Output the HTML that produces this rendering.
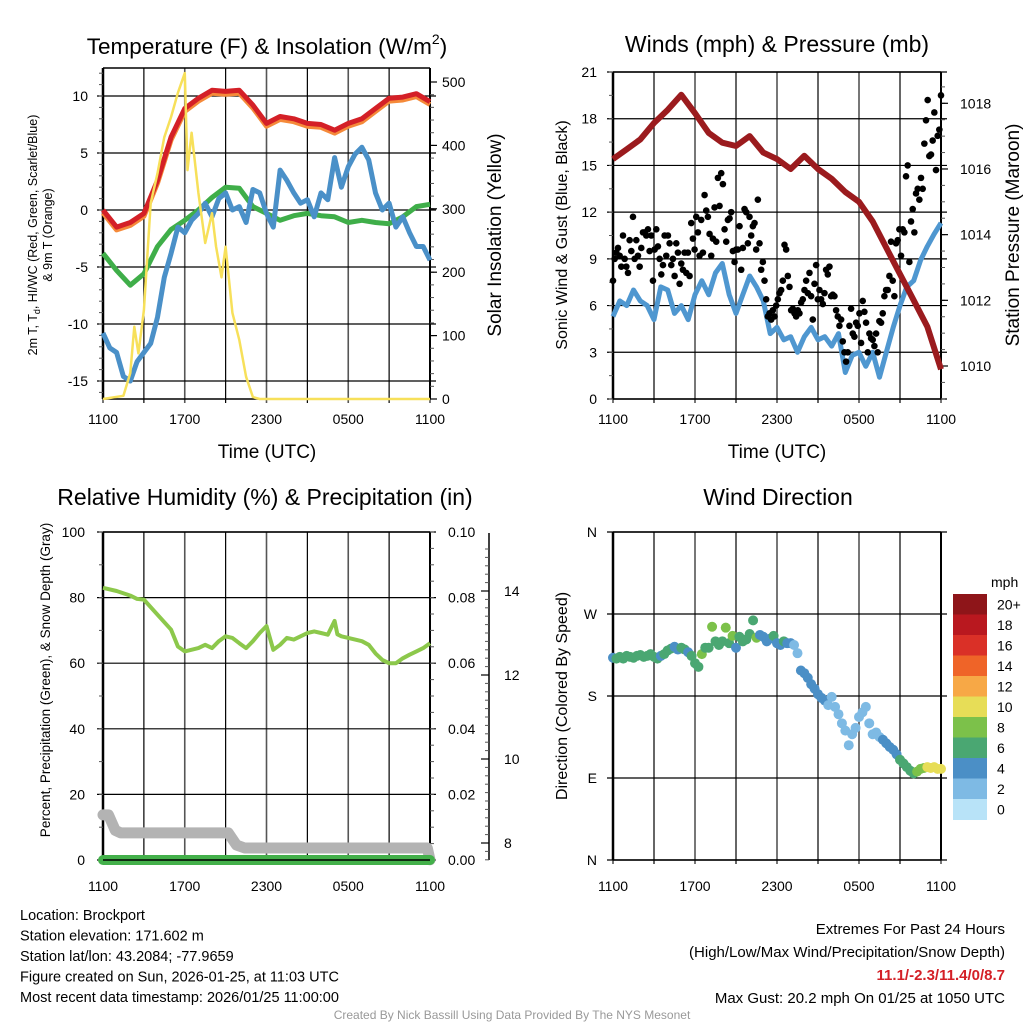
<!DOCTYPE html>
<html><head><meta charset="utf-8"><style>
html,body{margin:0;padding:0;background:#fff}
svg{display:block;font-family:"Liberation Sans",sans-serif}
</style></head><body>
<svg id="c" width="1024" height="1024" viewBox="0 0 1024 1024" xmlns="http://www.w3.org/2000/svg"></svg>
<script>
// ---------- DATA ----------
const xTickLabels = ["1100","1700","2300","0500","1100"];
const tempTicks = [-15,-10,-5,0,5,10];
const solarTicks = [0,100,200,300,400,500];
const hourly = [0,1,2,3,4,5,6,7,8,9,10,11,12,13,14,15,16,17,18,19,20,21,22,23,24];
const airTemp = [0,-1.5,-1.1,-0.3,2.6,6.4,8.9,9.8,10.5,10.4,10.5,9.2,7.6,8.2,8.0,7.6,7.5,7.0,7.6,8.0,8.9,9.8,9.9,10.2,9.5];
const windChill = [-3.8,-5.3,-6.6,-5.6,-3.2,-1.7,-0.9,0,1.1,2.0,1.9,0.3,-0.3,-0.9,-0.5,-0.3,-0.5,-0.6,-1.1,-0.9,-1.1,-1.2,-0.6,0.3,0.5];
const halfHourly = [0,0.5,1,1.5,2,2.5,3,3.5,4,4.5,5,5.5,6,6.5,7,7.5,8,8.5,9,9.5,10,10.5,11,11.5,12,12.5,13,13.5,14,14.5,15,15.5,16,16.5,17,17.5,18,18.5,19,19.5,20,20.5,21,21.5,22,22.5,23,23.5,24];
const dewPoint = [-10.8,-12.1,-12.5,-14.6,-15,-13.3,-12.5,-11.7,-9.4,-5.9,-3.8,-1.5,-2.0,-0.9,-0.3,0.6,-0.6,1.0,1.5,0,0.3,-1.1,1.8,1.5,-0.3,-1.5,3.5,2.6,1.5,0.6,0.9,-0.6,1.5,0.9,4.6,2.0,3.8,4.9,5.5,4.4,1.5,0,0.6,-1.5,-0.6,-2.0,-3.2,-3.2,-4.4];
const solarTimes = [0,1.5,2,2.3,2.6,3,3.5,4,4.5,5,5.5,6,6.2,6.5,7,7.5,8,8.3,8.7,9,9.5,10,10.5,11,11.5,24];
const solarValues = [0,5,41,114,72,140,309,356,413,445,483,514,361,420,325,246,293,240,192,240,136,93,35,3,0,0];

const windTicks = [0,3,6,9,12,15,18,21];
const presTicks = [1010,1012,1014,1016,1018];
const pressure = [1016.3,1016.6,1016.9,1017.4,1017.8,1018.26,1017.7,1017.1,1016.8,1016.7,1017.0,1016.5,1016.3,1016.0,1016.4,1016.0,1015.7,1015.3,1015.0,1014.4,1013.6,1012.8,1012.0,1011.2,1009.9];
const sonicWind = [5.3,6.3,6.0,7.0,6.3,6.0,5.1,7.2,7.0,5.5,6.0,5.1,6.7,7.6,6.7,8.1,8.7,6.7,5.5,6.7,7.9,7.2,6.3,4.2,4.6,3.8,4.0,3.0,4.0,4.6,3.8,4.0,3.4,4.2,1.7,2.8,3.0,2.1,3.0,1.4,3.0,4.6,6.0,7.2,7.6,8.9,9.8,10.6,11.3];
const gusts = [7.6,9.0,9.4,9.7,9.2,8.5,10.5,9.0,8.5,8.1,10.2,9.5,11.7,9.0,10.2,9.2,8.5,9.7,10.7,10.7,10.5,10.9,9.5,10.5,7.6,9.6,10.9,9.8,9.0,8.0,8.6,10.5,9.2,10.5,10.0,8.6,9.0,7.9,10.0,9.4,7.4,8.7,8.3,9.4,8.1,9.4,7.9,11.3,10.3,9.6,11.7,10.7,9.2,11.5,9.4,13.1,12.1,11.7,10.6,9.2,10.3,12.3,10.1,14.2,12.4,14.5,13.8,10.9,10.1,11.5,11.6,12.0,9.5,8.8,9.6,9.6,11.1,8.3,9.7,12.2,12.0,10.0,11.7,10.5,11.1,11.3,9.6,12.8,10.0,8.3,8.8,7.6,6.4,5.3,5.5,5.1,5.7,5.3,6.0,6.4,6.8,7.0,7.6,9.9,9.6,7.9,7.2,5.7,5.8,5.5,5.3,5.7,5.5,6.2,6.4,7.0,7.6,6.8,8.1,6.6,5.1,7.4,8.6,6.4,7.0,6.4,6.1,6.8,8.3,8.0,8.5,6.6,6.7,6.6,5.7,5.3,4.7,5.1,3.7,3.0,2.4,3.0,4.7,5.8,4.2,4.0,4.9,4.7,5.5,3.6,6.3,5.6,4.9,3.0,4.2,3.9,3.8,3.4,4.2,3.0,5.0,4.9,5.5,6.6,7.0,7.0,7.9,10.1,7.6,6.6,10.0,10.2,10.9,9.2,10.9,10.7,14.3,15.0,8.8,11.4,12.2,10.7,13.2,13.5,12.8,14.2,13.5,16.4,17.9,19.2,15.6,15.7,16.6,18.4,14.7,16.9,17.3,19.5];

const rhTicks = [0,20,40,60,80,100];
const precipTicks = ["0.00","0.02","0.04","0.06","0.08","0.10"];
const snowTicks = [8,10,12,14];
const rhTimes = [0,1,2,2.5,3,4,5,5.5,6,7,7.5,8,8.5,9,9.5,10,10.5,11,11.5,12,12.5,13,13.5,14,14.5,15,15.5,16,16.5,17,17.2,17.5,18,18.5,19,19.5,20,20.5,21,21.5,22,22.5,23,23.5,24];
const rhValues = [83,82,80.6,79.6,79.4,74.8,70.2,65.1,63.6,64.6,65.6,64.6,66.7,68.2,67.7,66.1,64.6,66.7,69.2,71.3,64.1,65.6,67.7,67.2,68.2,69.2,69.7,69.2,68.7,72.9,68.8,68.2,67.7,67.2,66.7,65.6,63,61,60,60,61.5,62.6,63.6,64.6,66.1];
const snowTimes = [0,0.4,0.9,1.3,9.2,9.8,10.4,23.8,24];
const snowDepth = [8.67,8.67,8.3,8.24,8.24,7.95,7.88,7.88,7.6];
const precip = [0,0];
const precipTimes = [0,24];

const dirLabels = ["N","E","S","W","N"];
const windDir = [222,221,223,221,224,223,222,224,225,223,224,226,223,221,224,226,230,232,234,231,233,231,228,224,216,212,226,233,233,256,240,236,240,255,238,246,233,245,240,242,248,263,244,247,245,240,243,246,238,236,240,238,238,236,227,208,205,200,193,188,182,178,175,170,179,168,160,150,142,126,138,145,157,162,168,150,138,140,135,132,128,124,121,116,110,106,102,98,95,97,100,101,102,101,102,100,100];
const dirSpeed = [5.5,6.5,6.8,6.5,7,6.5,6.8,7,6.5,7,6.6,6.2,6.8,7.5,5.5,6.5,7,6.5,5.5,5,6.5,6.2,5.8,6.8,7,6.5,8.5,6.6,7,8.5,6.8,7.5,6.5,8.6,7,9,5.5,7,6.5,7.2,6.8,7,8.5,5.5,5.5,4.5,5,6.5,5.2,4.8,6.5,5,4.5,3.8,3.5,4.5,5,4.2,4.5,5.2,5,4.8,4,3.5,3.5,3.2,3,3.8,3.5,2.8,3.2,3,3.5,2.5,3.2,3.5,3.8,3.5,3.2,4.5,5,4.8,4.5,5.5,6.2,6.5,7,6.5,7.5,8.5,8.8,9.5,10.5,10,11,10.5,10.2];
const speedBins = ["20+","18","16","14","12","10","8","6","4","2","0"];
const binColors = ["#8e1519","#b9181f","#da3027","#ef6428","#f7a846","#e7dd57","#7cc14a","#4aa772","#4b8fc6","#7ebae4","#b8e3f8"];

// ---------- HELPERS ----------
const svg = document.getElementById('c');
const NS = "http://www.w3.org/2000/svg";
function el(tag, attrs, parent){const e=document.createElementNS(NS,tag);for(const k in attrs)e.setAttribute(k,attrs[k]);(parent||svg).appendChild(e);return e;}
function txt(s, attrs, parent){const e=el('text',attrs,parent);e.textContent=s;return e;}
function lin(d0,d1,r0,r1){return v=>r0+(v-d0)*(r1-r0)/(d1-d0);}
function pathD(xs,ys,fx,fy){return xs.map((x,i)=>(i?'L':'M')+fx(x).toFixed(1)+','+fy(ys[i]).toFixed(1)).join('');}
function frame(g,x0,x1,y0,y1,hGridYs){
  for(let i=0;i<=8;i++){const x=x0+(x1-x0)*i/8;
    const l=el('line',{x1:x,x2:x,y1:y0,y2:y1+4,stroke:i%2?'#000':'#555','stroke-width':i%2?1.2:1.6},g);
    }
  hGridYs.forEach(y=>{const l=el('line',{x1:x0-6,x2:x1+6,y1:y,y2:y,stroke:'#000','stroke-width':1.2},g);
    });
  el('line',{x1:x0,x2:x0,y1:y0,y2:y1,stroke:'#000','stroke-width':2.5},g);
  el('line',{x1:x1,x2:x1,y1:y0,y2:y1,stroke:'#000','stroke-width':2},g);
  el('line',{x1:x0,x2:x1,y1:y0,y2:y0,stroke:'#000','stroke-width':1.5},g);
  el('line',{x1:x0,x2:x1,y1:y1,y2:y1,stroke:'#000','stroke-width':1.5},g);
}
function xLabels(g,x0,x1,y){xTickLabels.forEach((t,i)=>{const e=txt(t,{x:x0+(x1-x0)*i/4,y:y,'font-size':14,'text-anchor':'middle'},g);
  });}
function minorTicks(g,x,ya,yb,n,dir){for(let i=0;i<=n;i++){const y=ya+(yb-ya)*i/n;el('line',{x1:x,x2:x+dir*4,y1:y,y2:y,stroke:'#555','stroke-width':1},g);}}

// ---------- PANEL 1 ----------
(function(){
const g=el('g',{});
const X0=103,X1=430,Y0=68,Y1=399;
const fx=lin(0,24,X0,X1), fy=lin(0,10,210,96), fs=lin(0,500,399,82);
frame(g,X0,X1,Y0,Y1,tempTicks.map(fy));
minorTicks(g,X0,fy(-16),fy(12),28,-1);
minorTicks(g,X1,fs(0),fs(500),25,1);
tempTicks.forEach(t=>{const e=txt(String(t),{x:88,y:fy(t)+5,'font-size':14,'text-anchor':'end'},g);});
solarTicks.forEach(t=>{el('line',{x1:X1,x2:X1+7,y1:fs(t),y2:fs(t),stroke:'#000','stroke-width':1.2},g);
  const e=txt(String(t),{x:442,y:fs(t)+5,'font-size':14},g);});
xLabels(g,X0,X1,424);
let p;
p=el('path',{d:pathD(hourly,airTemp.map(v=>v-0.25),fx,fy),fill:'none',stroke:'#f58a3a','stroke-width':5,'stroke-linejoin':'round'},g);
p=el('path',{d:pathD(hourly,windChill,fx,fy),fill:'none',stroke:'#3fae49','stroke-width':5,'stroke-linejoin':'round'},g);
p=el('path',{d:pathD(halfHourly,dewPoint,fx,fy),fill:'none',stroke:'#4a90c8','stroke-width':5,'stroke-linejoin':'round'},g);
p=el('path',{d:pathD(hourly,airTemp,fx,fy),fill:'none',stroke:'#d42027','stroke-width':5,'stroke-linejoin':'round'},g);
p=el('path',{d:pathD(solarTimes,solarValues,fx,fs),fill:'none',stroke:'#f7e05a','stroke-width':2.5,'stroke-linejoin':'round'},g);
let t=el('text',{x:267,y:54,'font-size':22.5,'text-anchor':'middle'},g);t.innerHTML='Temperature (F) &amp; Insolation (W/m<tspan font-size="14" dy="-10">2</tspan><tspan dy="10">)</tspan>';
t=txt('Time (UTC)',{x:267,y:458,'font-size':19,'text-anchor':'middle'},g);
t=el('text',{transform:'translate(37,235) rotate(-90)','font-size':12.5,'text-anchor':'middle'},g);t.innerHTML='2m T, T<tspan font-size="9" dy="3">d</tspan><tspan dy="-3">, HI/WC (Red, Green, Scarlet/Blue)</tspan>';
t=txt('& 9m T (Orange)',{transform:'translate(52,235) rotate(-90)','font-size':12.5,'text-anchor':'middle'},g);
t=txt('Solar Insolation (Yellow)',{transform:'translate(501,235) rotate(-90)','font-size':19,'text-anchor':'middle'},g);
})();

// ---------- PANEL 2 ----------
(function(){
const g=el('g',{});
const X0=613,X1=941,Y0=72,Y1=399;
const fx=lin(0,24,X0,X1), fy=lin(0,21,399,72), fp=lin(1010,1018,366,103.3);
frame(g,X0,X1,Y0,Y1,windTicks.map(fy));
minorTicks(g,X0,fy(0),fy(21),14,-1);
minorTicks(g,X1,fp(1009),fp(1018.5),19,1);
windTicks.forEach(t=>{const e=txt(String(t),{x:597,y:fy(t)+5,'font-size':14,'text-anchor':'end'},g);});
presTicks.forEach(t=>{el('line',{x1:X1,x2:X1+7,y1:fp(t),y2:fp(t),stroke:'#000','stroke-width':1.2},g);
  const e=txt(String(t),{x:960,y:fp(t)+5,'font-size':14},g);});
xLabels(g,X0,X1,424);
let p=el('path',{d:pathD(halfHourly,sonicWind,fx,fy),fill:'none',stroke:'#4f97d0','stroke-width':5,'stroke-linejoin':'round'},g);
p=el('path',{d:pathD(hourly,pressure,fx,fp),fill:'none',stroke:'#9b1b1e','stroke-width':6,'stroke-linejoin':'round'},g);
gusts.forEach((v,i)=>{const h=i*24/(gusts.length-1);
  const c=el('circle',{cx:fx(h),cy:fy(v),r:3.3,fill:'#000'},g);
  
  });
let t=txt('Winds (mph) & Pressure (mb)',{x:777,y:52,'font-size':23,'text-anchor':'middle'},g);
t=txt('Time (UTC)',{x:777,y:458,'font-size':19,'text-anchor':'middle'},g);
t=txt('Sonic Wind & Gust (Blue, Black)',{transform:'translate(567,235) rotate(-90)','font-size':16,'text-anchor':'middle'},g);
t=txt('Station Pressure (Maroon)',{transform:'translate(1019,235) rotate(-90)','font-size':19,'text-anchor':'middle'},g);
})();

// ---------- PANEL 3 ----------
(function(){
const g=el('g',{});
const X0=103,X1=430,Y0=532,Y1=860;
const fx=lin(0,24,X0,X1), fy=lin(0,100,860,532), fs=lin(8,14,843,591);
frame(g,X0,X1,Y0,Y1,rhTicks.map(fy));
minorTicks(g,X0,fy(0),fy(100),10,-1);
minorTicks(g,X1,fy(0),fy(100),20,1);
rhTicks.forEach(t=>{const e=txt(String(t),{x:85,y:fy(t)+5,'font-size':14,'text-anchor':'end'},g);});
precipTicks.forEach((t,i)=>{const e=txt(t,{x:448,y:fy(i*20)+5,'font-size':14},g);});
el('line',{x1:489,x2:489,y1:533,y2:860,stroke:'#000','stroke-width':1.5},g);
minorTicks(g,489,fs(7.6),fs(15),37,-1);
snowTicks.forEach(t=>{el('line',{x1:489,x2:481,y1:fs(t),y2:fs(t),stroke:'#000','stroke-width':1.2},g);
  const e=txt(String(t),{x:504,y:fs(t)+5,'font-size':14},g);});
xLabels(g,X0,X1,891);
let p=el('path',{d:pathD(snowTimes,snowDepth,fx,fs),fill:'none',stroke:'#b3b3b3','stroke-width':11,'stroke-linejoin':'round','stroke-linecap':'round'},g);
p=el('path',{d:pathD(precipTimes,precip,fx,v=>fy(v*1000)),fill:'none',stroke:'#43b04a','stroke-width':10,'stroke-linecap':'round'},g);
el('line',{x1:X0,x2:X1,y1:Y1,y2:Y1,stroke:'#000','stroke-width':1.5},g);
p=el('path',{d:pathD(rhTimes,rhValues,fx,fy),fill:'none',stroke:'#8cc84b','stroke-width':4,'stroke-linejoin':'round'},g);
let t=txt('Relative Humidity (%) & Precipitation (in)',{x:265,y:505,'font-size':23,'text-anchor':'middle'},g);
t=txt('Percent, Precipitation (Green), & Snow Depth (Gray)',{transform:'translate(50,680) rotate(-90)','font-size':13.5,'text-anchor':'middle'},g);
})();

// ---------- PANEL 4 ----------
(function(){
const g=el('g',{});
const X0=613,X1=941,Y0=532,Y1=860;
const fx=lin(0,24,X0,X1), fy=lin(0,360,860,532);
frame(g,X0,X1,Y0,Y1,[0,90,180,270,360].map(fy));
dirLabels.forEach((t,i)=>{const e=txt(t,{x:597,y:fy(i*90)+5,'font-size':14,'text-anchor':'end'},g);});
xLabels(g,X0,X1,891);
function binColor(s){const idx=Math.min(10,Math.floor(s/2));return binColors[10-idx];}
windDir.forEach((d,i)=>{const h=i*24/(windDir.length-1);
  const c=el('circle',{cx:fx(h),cy:fy(d),r:5,fill:binColor(dirSpeed[i])},g);
  
  });
const bh=20.5;
speedBins.forEach((lab,i)=>{const r=el('rect',{x:953,y:594+i*bh,width:34,height:bh+0.5,fill:binColors[i]},g);
  
  const e=txt(lab,{x:997,y:594+i*bh+bh/2+5,'font-size':14},g);});
let t=txt('mph',{x:991,y:587,'font-size':14},g);
t=txt('Wind Direction',{x:778,y:505,'font-size':23,'text-anchor':'middle'},g);
t=txt('Direction (Colored By Speed)',{transform:'translate(567,696) rotate(-90)','font-size':16,'text-anchor':'middle'},g);
})();

// ---------- FOOTER ----------
(function(){
const g=el('g',{});
const lines=["Location: Brockport","Station elevation: 171.602 m","Station lat/lon: 43.2084; -77.9659","Figure created on Sun, 2026-01-25, at 11:03 UTC","Most recent data timestamp: 2026/01/25 11:00:00"];
lines.forEach((s,i)=>{const e=txt(s,{x:20,y:920+i*20.5,'font-size':14.5},g);});
const g2=el('g',{});
let e=txt('Extremes For Past 24 Hours',{x:1005,y:934,'font-size':15,'text-anchor':'end'},g2);
e=txt('(High/Low/Max Wind/Precipitation/Snow Depth)',{x:1005,y:957,'font-size':15,'text-anchor':'end'},g2);
e=txt('11.1/-2.3/11.4/0/8.7',{x:1005,y:980,'font-size':15,'font-weight':'bold',fill:'#d42027','text-anchor':'end'},g2);
e=txt('Max Gust: 20.2 mph On 01/25 at 1050 UTC',{x:1005,y:1003,'font-size':15,'text-anchor':'end'},g2);
e=txt('Created By Nick Bassill Using Data Provided By The NYS Mesonet',{x:512,y:1019,'font-size':12,fill:'#999','text-anchor':'middle'});
})();
</script>
</body></html>
